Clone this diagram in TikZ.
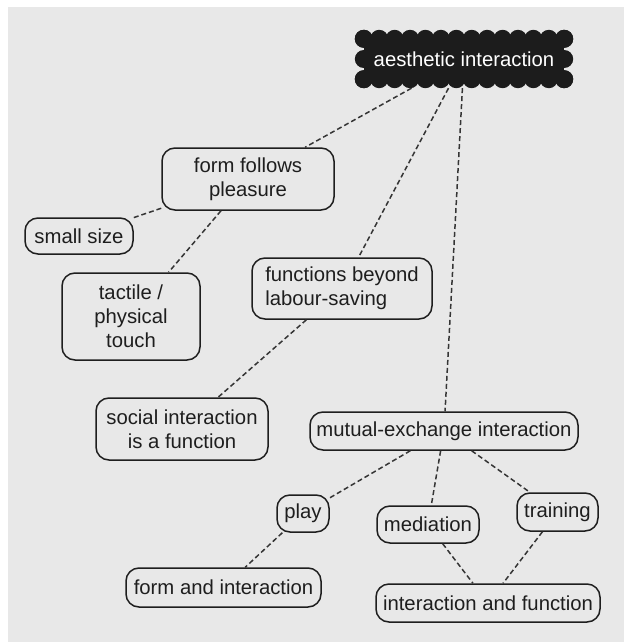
\documentclass[tikz,border=0pt]{standalone}
\usepackage{fontspec}
\setmainfont{Liberation Sans}
\usetikzlibrary{calc,backgrounds}
\definecolor{canvas}{HTML}{E8E8E8}
\definecolor{ink}{HTML}{1E1E1E}
\definecolor{cloudink}{HTML}{1C1C1C}
\begin{document}
\begin{tikzpicture}[x=1pt,y=-1pt,
  topic/.style={draw=ink, line width=1.5pt, rounded corners=13pt, inner sep=2pt,
    font=\fontsize{20.3}{24}\selectfont, text=ink, align=center},
  link/.style={draw=ink!90, line width=1.5pt, dash pattern=on 5pt off 3pt},
  cloudtopic/.style={inner sep=0pt, minimum width=218pt, minimum height=58pt,
    font=\fontsize{20.3}{24}\selectfont, text=white}]
\useasboundingbox (0,0) rectangle (632,642);
\begin{scope}[on background layer]
  \fill[white] (0,0) rectangle (632,642);
  \fill[canvas] (8,7) rectangle (624,642);
\end{scope}

% root concept drawn as a scalloped cloud
\node[cloudtopic] (ai) at (464,59) {aesthetic interaction};
\begin{scope}[on background layer]
  \coordinate (tl) at ($(ai.north west)+(9,9)$);
  \coordinate (tr) at ($(ai.north east)+(-9,9)$);
  \coordinate (bl) at ($(ai.south west)+(9,-9)$);
  \coordinate (br) at ($(ai.south east)+(-9,-9)$);
  \fill[cloudink] (tl) rectangle (br);
  \foreach \i in {0,...,13} {
    \fill[cloudink] ($(tl)!{\i/13}!(tr)$) circle[radius=9pt];
    \fill[cloudink] ($(bl)!{\i/13}!(br)$) circle[radius=9pt];
  }
  \foreach \i in {0,1,2} {
    \fill[cloudink] ($(tl)!{\i/2}!(bl)$) circle[radius=9pt];
    \fill[cloudink] ($(tr)!{\i/2}!(br)$) circle[radius=9pt];
  }
\end{scope}

% concepts
\node[topic, minimum width=172pt, minimum height=62pt] (ffp) at (248,179) {form follows\\pleasure};
\node[topic, minimum width=108pt, minimum height=36pt] (small) at (79,236) {small size};
\node[topic, minimum width=138pt, minimum height=87pt] (tactile) at (131,316.5) {tactile /\\physical\\touch};
\node[topic, minimum width=180pt, minimum height=61pt, align=left] (beyond) at (342,288.5) {functions beyond\\labour-saving};
\node[topic, minimum width=172pt, minimum height=62pt] (social) at (182,429) {social interaction\\is a function};
\node[topic, minimum width=268pt, minimum height=38pt] (mutual) at (444,431) {mutual-exchange interaction};
\node[topic, minimum width=52pt, minimum height=37pt] (play) at (303,513.5) {play};
\node[topic, minimum width=102pt, minimum height=37pt] (mediation) at (428,524.5) {mediation};
\node[topic, minimum width=81pt, minimum height=38pt] (training) at (557.5,512) {training};
\node[topic, minimum width=195pt, minimum height=39pt] (formint) at (223.5,587.5) {form and interaction};
\node[topic, minimum width=224pt, minimum height=38pt] (intfun) at (488,603) {interaction and function};

% links
\draw[link] (ai) -- (ffp);
\draw[link] (ai) -- (beyond);
\draw[link] (ai) -- (mutual);
\draw[link] (ffp) -- (small);
\draw[link] (ffp) -- (tactile);
\draw[link] (beyond) -- (social);
\draw[link] (mutual) -- (play);
\draw[link] (mutual) -- (mediation);
\draw[link] (mutual) -- (training);
\draw[link] (play) -- (formint);
\draw[link] (mediation) -- (intfun);
\draw[link] (training) -- (intfun);
\end{tikzpicture}
\end{document}
